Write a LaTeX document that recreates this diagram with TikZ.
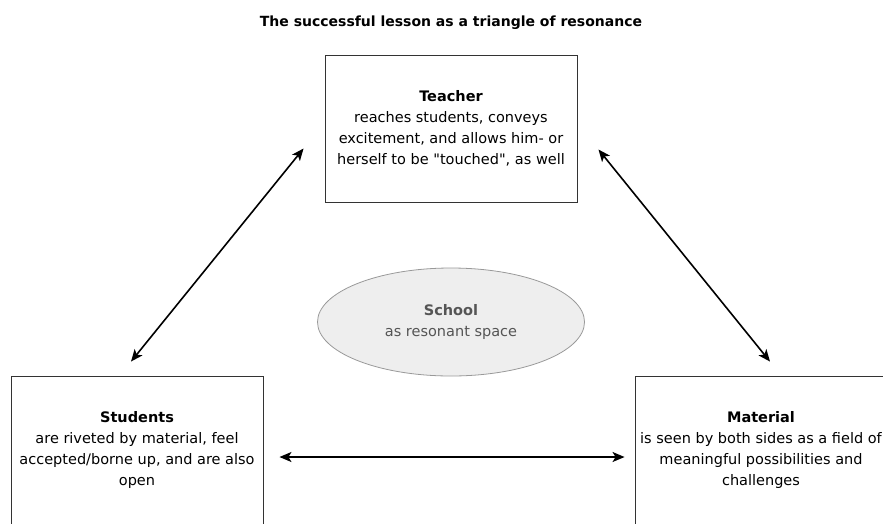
\documentclass[tikz,border=0pt]{standalone}
\usepackage{fontspec}
\setmainfont{DejaVu Sans}
\usetikzlibrary{arrows.meta,shapes.geometric}
\definecolor{boxline}{HTML}{333333}
\definecolor{schoolfill}{HTML}{EEEEEE}
\definecolor{schoolline}{HTML}{999999}
\definecolor{schooltext}{HTML}{555555}
\begin{document}
\begin{tikzpicture}[x=1pt,y=-1pt,
  box/.style={draw=boxline, line width=0.9pt, minimum width=252pt, inner sep=0pt,
    align=center, font=\fontsize{14.5}{20.8}\selectfont},
  space/.style={ellipse, draw=schoolline, fill=schoolfill, line width=0.8pt,
    minimum width=267pt, minimum height=108pt, inner sep=0pt, align=center,
    text=schooltext, font=\fontsize{14.5}{20.8}\selectfont},
  link/.style={line width=1.6pt, {Stealth[length=12pt,width=10pt,inset=3pt]}-{Stealth[length=12pt,width=10pt,inset=3pt]}}]
\useasboundingbox (0,0) rectangle (883,523);

\node[font=\bfseries\fontsize{14}{17}\selectfont] (title) at (451,23) {The successful lesson as a triangle of resonance};

\node[box, minimum height=147pt] (teacher) at (451,128.5) {\textbf{Teacher}\\reaches students, conveys\\excitement, and allows him- or\\herself to be \textquotedbl touched\textquotedbl, as well};
\node[box, minimum height=148pt] (students) at (137,450) {\textbf{Students}\\are riveted by material, feel\\accepted/borne up, and are also\\open};
\node[box, minimum height=148pt] (material) at (761,450) {\textbf{Material}\\is seen by both sides as a field of\\meaningful possibilities and\\challenges};
\node[space] (school) at (451,322) {\textbf{School}\\as resonant space};

\draw[link] ([xshift=-6pt,yshift=14pt]students.north) -- ([xshift=-21pt,yshift=-20pt]teacher.west);
\draw[link] ([xshift=21pt,yshift=-21pt]teacher.east) -- ([xshift=9pt,yshift=14pt]material.north);
\draw[link] ([xshift=16pt,yshift=-7pt]students.east) -- ([xshift=-10pt,yshift=-7pt]material.west);
\end{tikzpicture}
\end{document}
